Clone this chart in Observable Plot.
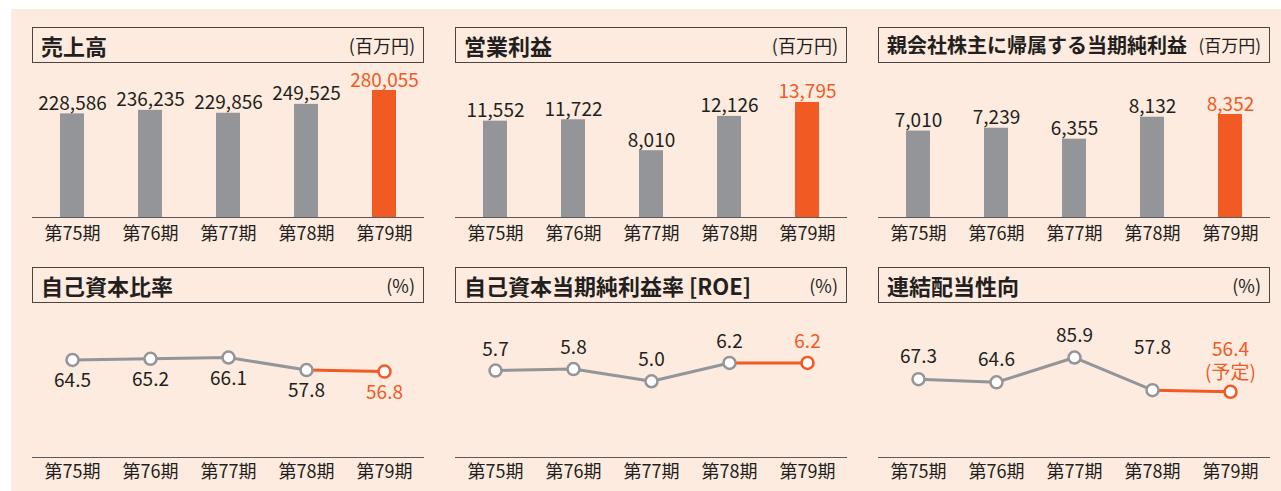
<!DOCTYPE html>
<html><head><meta charset="utf-8">
<script src="https://cdn.jsdelivr.net/npm/d3@7"></script>
<script src="https://cdn.jsdelivr.net/npm/@observablehq/plot@0.6"></script>
<style>
body{margin:0;background:#fff;width:1281px;height:491px;overflow:hidden;font-family:"Noto Sans CJK JP","Noto Sans",sans-serif;color:#231f20;position:relative}
#bg{position:absolute;left:11px;top:9px;width:1270px;height:482px;background:#fdebdf}
.title{position:absolute;box-sizing:border-box;width:392px;height:36px;border:1px solid #4a4543;display:flex;justify-content:space-between;align-items:center;padding:0 8px 1px 8px;white-space:nowrap}
.title .t{font-weight:700;font-size:22px;letter-spacing:0}
.title .u{font-size:18px}
.plot{position:absolute}
</style></head><body>
<div id="bg"></div>
<div id="root"></div>
<script>
// ---- data ----
const periods = ["第75期", "第76期", "第77期", "第78期", "第79期"];
const sales = [228586, 236235, 229856, 249525, 280055];
const operatingIncome = [11552, 11722, 8010, 12126, 13795];
const netIncome = [7010, 7239, 6355, 8132, 8352];
const equityRatio = [64.5, 65.2, 66.1, 57.8, 56.8];
const roe = [5.7, 5.8, 5.0, 6.2, 6.2];
const payoutRatio = [67.3, 64.6, 85.9, 57.8, 56.4];
const payoutNote = "(予定)";
const titlesTop = ["売上高", "営業利益", "親会社株主に帰属する当期純利益"];
const titlesBottom = ["自己資本比率", "自己資本当期純利益率 [ROE]", "連結配当性向"];
const unitsTop = ["(百万円)", "(百万円)", "(百万円)"];
const unitsBottom = ["(%)", "(%)", "(%)"];

// ---- style ----
const GRAY = "#939598";
const ORANGE = "#f15a22";
const TEXT = "#231f20";
const FONT = '"Noto Sans CJK JP","Noto Sans",sans-serif';
const colX = [32, 455, 878];
const root = document.getElementById("root");

function addTitle(x, y, title, unit, small) {
  const d = document.createElement("div");
  d.className = "title";
  d.style.left = x + "px"; d.style.top = y + "px";
  d.innerHTML = `<span class="t" style="${small ? 'font-size:20px' : ''}">${title}</span><span class="u" style="${small ? 'font-size:17px' : ''}">${unit}</span>`;
  root.appendChild(d);
}
function place(svg, x, y) {
  const w = document.createElement("div");
  w.className = "plot";
  w.style.left = x + "px"; w.style.top = y + "px";
  w.appendChild(svg);
  root.appendChild(w);
}
const baseStyle = {background: "transparent", fontFamily: FONT, fontSize: "16px", color: TEXT, overflow: "visible"};
const fmt = d3.format(",");
const tickLabels = (pad) => Plot.text(periods, {x: d => d, frameAnchor: "bottom", lineAnchor: "top", dy: pad, fontSize: 18, fill: TEXT});

function barChart(values, yMax) {
  const n = values.length;
  const data = periods.map((p, i) => ({p, v: values[i], c: i === n - 1 ? ORANGE : GRAY, tc: i === n - 1 ? ORANGE : TEXT}));
  return Plot.plot({
    width: 392, height: 190, marginTop: 0, marginBottom: 36, marginLeft: 0, marginRight: 0,
    x: {type: "band", domain: periods, range: [1, 391], padding: 0, label: null, axis: null},
    y: {domain: [0, yMax], axis: null},
    style: baseStyle,
    marks: [
      Plot.barY(data, {x: "p", y: "v", fill: "c", insetLeft: 27, insetRight: 27}),
      Plot.ruleY([0], {stroke: "#5d5857", strokeWidth: 1}),
      Plot.text(data, {x: "p", y: "v", text: d => fmt(d.v), fill: "tc", fontSize: 19, lineAnchor: "bottom", dy: -4}),
      tickLabels(10)
    ]
  });
}

function lineChart(values, yMax, labelMarks) {
  const n = values.length;
  const data = periods.map((p, i) => ({p, v: values[i], i, c: i === n - 1 ? ORANGE : GRAY, tc: i === n - 1 ? ORANGE : TEXT}));
  return Plot.plot({
    width: 392, height: 190, marginTop: 0, marginBottom: 36, marginLeft: 0, marginRight: 0,
    x: {type: "point", domain: periods, range: [1, 391], padding: 0.5, label: null, axis: null},
    y: {domain: [0, yMax], axis: null},
    style: baseStyle,
    marks: [
      Plot.ruleY([0], {stroke: "#5d5857", strokeWidth: 1}),
      Plot.line(data.slice(0, n - 1), {x: "p", y: "v", stroke: GRAY, strokeWidth: 3}),
      Plot.line(data.slice(n - 2), {x: "p", y: "v", stroke: ORANGE, strokeWidth: 3}),
      Plot.dot(data, {x: "p", y: "v", r: 6, fill: "white", stroke: "c", strokeWidth: 2.5}),
      ...labelMarks(data),
      tickLabels(8)
    ]
  });
}

// ---- top row: bars ----
const barTop = 63;
[[sales, 339600], [operatingIncome, 18470], [netIncome, 12490]].forEach(([vals, mx], k) => {
  addTitle(colX[k], 27, titlesTop[k], unitsTop[k], k === 2);
  place(barChart(vals, mx), colX[k], barTop);
});

// ---- bottom row: lines ----
const lineTop = 303;
addTitle(colX[0], 267, titlesBottom[0], unitsBottom[0]);
place(lineChart(equityRatio, 101.8, data => [
  Plot.text(data, {x: "p", y: "v", text: d => d.v.toFixed(1), fill: "tc", fontSize: 19, dy: 21})
]), colX[0], lineTop);

addTitle(colX[1], 267, titlesBottom[1], unitsBottom[1]);
place(lineChart(roe, 10.1, data => [
  Plot.text(data, {x: "p", y: "v", text: d => d.v.toFixed(1), fill: "tc", fontSize: 19, dy: -21})
]), colX[1], lineTop);

addTitle(colX[2], 267, titlesBottom[2], unitsBottom[2]);
place(lineChart(payoutRatio, 132.3, data => [
  Plot.text(data.slice(0, 3), {x: "p", y: "v", text: d => d.v.toFixed(1), fill: "tc", fontSize: 19, dy: -22}),
  Plot.text(data.slice(3, 4), {x: "p", y: "v", text: d => d.v.toFixed(1), fill: "tc", fontSize: 19, dy: -42}),
  Plot.text(data.slice(4), {x: "p", y: "v", text: d => d.v.toFixed(1) + "\n" + payoutNote, fill: "tc", fontSize: 19, lineHeight: 1.2, dy: -32})
]), colX[2], lineTop);
</script>
</body></html>
